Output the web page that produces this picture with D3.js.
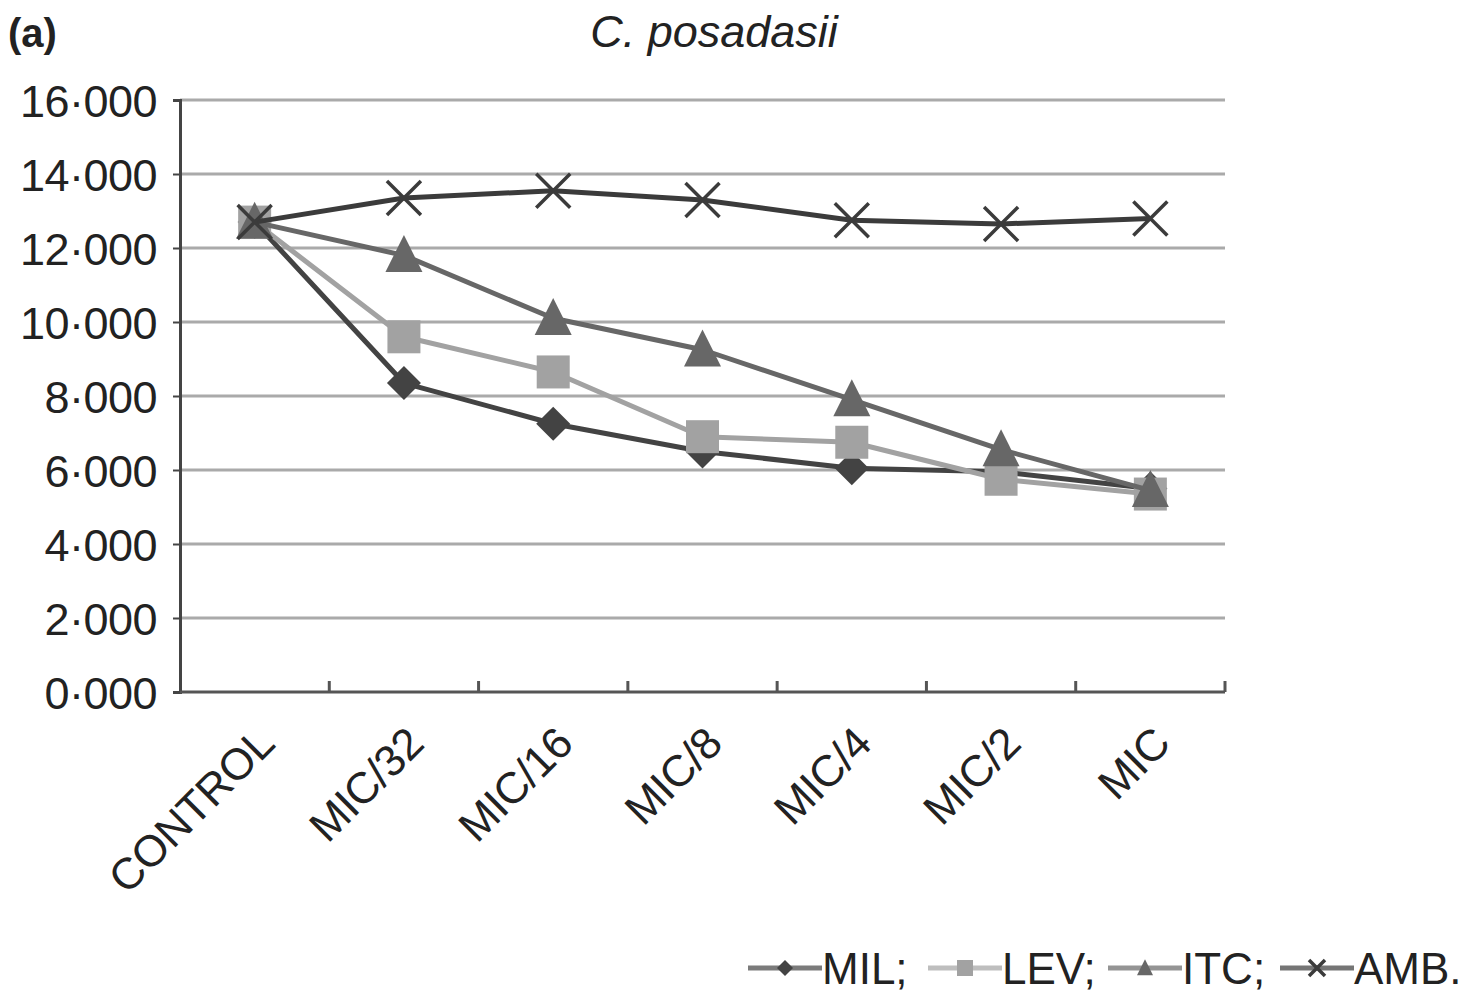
<!DOCTYPE html>
<html>
<head>
<meta charset="utf-8">
<script src="https://cdn.jsdelivr.net/npm/d3@7"></script>
<style>
  html, body { margin: 0; padding: 0; background: #fff; }
  text { font-family: "Liberation Sans", Arial, sans-serif; fill: #222; }
</style>
</head>
<body>
<div id="chart"></div>
<script>
// categories and series (values in thousands)
const categories = ["CONTROL", "MIC/32", "MIC/16", "MIC/8", "MIC/4", "MIC/2", "MIC"];
const milValues = [12.7, 8.35, 7.25, 6.5, 6.05, 5.95, 5.5];
const levValues = [12.7, 9.6, 8.65, 6.9, 6.75, 5.75, 5.35];
const itcValues = [12.7, 11.8, 10.1, 9.25, 7.9, 6.55, 5.45];
const ambValues = [12.7, 13.35, 13.55, 13.3, 12.75, 12.65, 12.8];
const yTicks = [0, 2, 4, 6, 8, 10, 12, 14, 16];
const seriesNames = ["MIL;", "LEV;", "ITC;", "AMB."];

const W = 1480, H = 1001;
const margin = { left: 180, right: 255, top: 100, bottom: 309 };

const series = [
  { name: seriesNames[0], values: milValues, color: "#434343", marker: "diamond" },
  { name: seriesNames[1], values: levValues, color: "#a2a2a2", marker: "square" },
  { name: seriesNames[2], values: itcValues, color: "#676767", marker: "triangle" },
  { name: seriesNames[3], values: ambValues, color: "#3b3b3b", marker: "cross" }
];

const svg = d3.select("#chart").append("svg")
  .attr("width", W).attr("height", H);

const x = d3.scaleBand().domain(categories).range([margin.left, W - margin.right]);
const y = d3.scaleLinear().domain([0, 16]).range([H - margin.bottom, margin.top]);
const cx = c => x(c) + x.bandwidth() / 2;

// gridlines
svg.append("g").selectAll("line")
  .data(yTicks.filter(d => d > 0))
  .enter().append("line")
  .attr("x1", margin.left).attr("x2", W - margin.right)
  .attr("y1", d => y(d)).attr("y2", d => y(d))
  .attr("stroke", "#aaaaaa").attr("stroke-width", 3);

// y axis
const fmt = d => d3.format(".3f")(d).replace(".", "·");
const yAxis = svg.append("g")
  .attr("transform", `translate(${margin.left},0)`)
  .call(d3.axisLeft(y).tickValues(yTicks).tickFormat(fmt).tickSize(7).tickPadding(16));
yAxis.select(".domain").attr("stroke", "#444").attr("stroke-width", 3);
yAxis.selectAll(".tick line").attr("stroke", "#444").attr("stroke-width", 2);
yAxis.selectAll(".tick text")
  .attr("font-size", 45).attr("fill", "#222")
  .attr("font-family", "Liberation Sans, Arial, sans-serif")
  .attr("letter-spacing", -0.5)
  .attr("dy", "0.36em");

// x axis line + inward tick marks at category boundaries
const y0 = y(0);
svg.append("line")
  .attr("x1", margin.left).attr("x2", W - margin.right)
  .attr("y1", y0).attr("y2", y0)
  .attr("stroke", "#555").attr("stroke-width", 3);
svg.append("g").selectAll("line")
  .data(categories)
  .enter().append("line")
  .attr("x1", d => x(d) + x.bandwidth()).attr("x2", d => x(d) + x.bandwidth())
  .attr("y1", y0).attr("y2", y0 - 11)
  .attr("stroke", "#555").attr("stroke-width", 3);

// rotated category labels
svg.append("g").selectAll("text")
  .data(categories)
  .enter().append("text")
  .attr("transform", d => `translate(${cx(d) + 22},${y0 + 54}) rotate(-45)`)
  .attr("text-anchor", "end")
  .attr("font-size", 44)
  .attr("letter-spacing", -0.5)
  .text(d => d);

// marker shapes
function drawMarker(g, type, size, color) {
  const h = size / 2;
  if (type === "diamond") {
    g.append("path").attr("d", `M0,${-h}L${h},0L0,${h}L${-h},0Z`).attr("fill", color);
  } else if (type === "square") {
    g.append("rect").attr("x", -h).attr("y", -h).attr("width", size).attr("height", size).attr("fill", color);
  } else if (type === "triangle") {
    g.append("path").attr("d", `M0,${-h * 1.1}L${h},${h * 0.9}L${-h},${h * 0.9}Z`).attr("fill", color);
  } else {
    g.append("path").attr("d", `M${-h},${-h}L${h},${h}M${-h},${h}L${h},${-h}`)
      .attr("stroke", color).attr("stroke-width", 3.5).attr("fill", "none");
  }
}

const line = d3.line().x((d, i) => cx(categories[i])).y(d => y(d));

series.forEach(s => {
  svg.append("path")
    .datum(s.values)
    .attr("d", line)
    .attr("fill", "none")
    .attr("stroke", s.color)
    .attr("stroke-width", 5)
    .attr("stroke-linejoin", "round");
  const sizes = { diamond: 34, square: 33, triangle: 37, cross: 34 };
  svg.append("g").selectAll("g")
    .data(s.values)
    .enter().append("g")
    .attr("transform", (d, i) => `translate(${cx(categories[i])},${y(d)})`)
    .each(function () { drawMarker(d3.select(this), s.marker, sizes[s.marker], s.color); });
});

// title and panel label
svg.append("text")
  .attr("x", 714).attr("y", 47)
  .attr("text-anchor", "middle")
  .attr("font-size", 45).attr("font-style", "italic")
  .text("C. posadasii");
svg.append("text")
  .attr("x", 8).attr("y", 47)
  .attr("font-size", 40).attr("font-weight", "bold")
  .text("(a)");

// legend
const legendX = [748, 928, 1108, 1280];
const legend = svg.append("g");
series.forEach((s, i) => {
  const g = legend.append("g").attr("transform", `translate(${legendX[i]},968)`);
  g.append("line").attr("x1", 0).attr("x2", 74).attr("y1", 0).attr("y2", 0)
    .attr("stroke", s.color).attr("stroke-opacity", 0.7).attr("stroke-width", 5);
  const m = g.append("g").attr("transform", "translate(37,0)");
  drawMarker(m, s.marker, 16, s.color);
  g.append("text").attr("x", 74).attr("y", 16)
    .attr("font-size", 44).text(s.name);
});
</script>
</body>
</html>
